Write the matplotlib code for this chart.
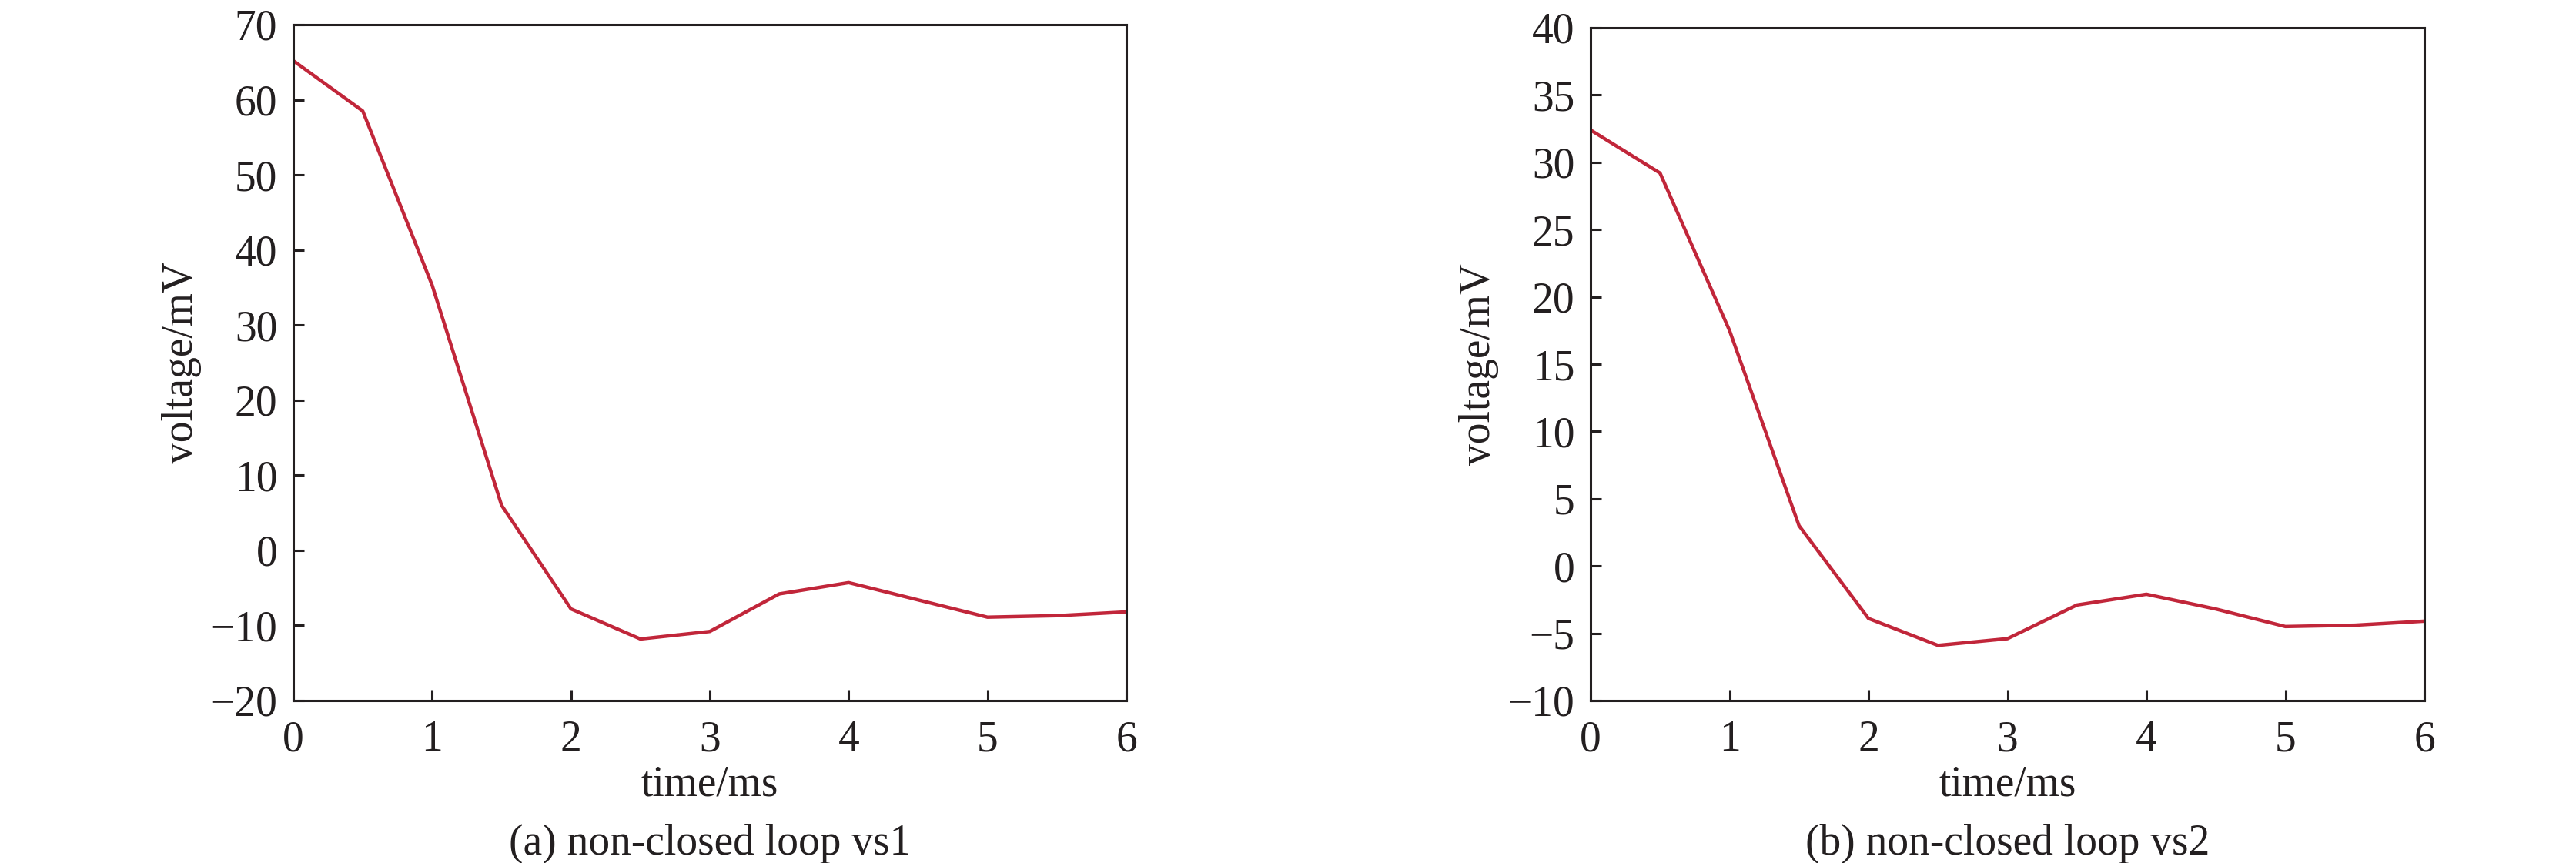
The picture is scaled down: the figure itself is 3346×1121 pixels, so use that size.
import numpy as np
import matplotlib
matplotlib.use("Agg")
import matplotlib.pyplot as plt

# ---------------- ДАННЫЕ ----------------

time_ms = [0, 0.5, 1, 1.5, 2, 2.5, 3, 3.5, 4, 4.5, 5, 5.5, 6]

# (a) non-closed loop vs1
vs1 = [65.2, 58.5, 35.3, 6.0, -7.8, -11.8, -10.8, -5.8, -4.3, -6.6, -8.9, -8.7, -8.2]

# (b) non-closed loop vs2
vs2 = [32.4, 29.2, 17.5, 3.0, -3.9, -5.9, -5.4, -2.9, -2.1, -3.2, -4.5, -4.4, -4.1]

panels = [
    (vs1, (-20, 70), np.arange(-20, 71, 10), "(a) non-closed loop vs1"),
    (vs2, (-10, 40), np.arange(-10, 41, 5), "(b) non-closed loop vs2"),
]

# ---------------- ОФОРМЛЕНИЕ ----------------

plt.rcParams["font.family"] = ["Liberation Serif", "DejaVu Serif"]

W, H = 3346, 1121
fig = plt.figure(figsize=(W / 100, H / 100), dpi=100)
fig.patch.set_facecolor("white")

# прямоугольники осей в пикселях (left, top, right, bottom)
boxes = [(381, 32, 1463, 910), (2066, 36, 3149, 910)]

line_color = "#c1263a"
fs = 40

for (values, ylim, yticks, caption), (l, t, r, b) in zip(panels, boxes):
    ax = fig.add_axes([l / W, (H - b) / H, (r - l) / W, (b - t) / H])

    ax.plot(time_ms, values, color=line_color, linewidth=3.2)

    ax.set_xlim(0, 6)
    ax.set_ylim(*ylim)
    ax.set_xticks(range(0, 7))
    ax.set_yticks(yticks)

    ax.tick_params(direction="in", length=10, width=2.2, labelsize=fs,
                   top=False, right=False, colors="#231f20")
    ax.tick_params(axis="x", pad=18)
    ax.tick_params(axis="y", pad=15)

    for spine in ax.spines.values():
        spine.set_linewidth(2.2)
        spine.set_color("#231f20")

    height = b - t
    width = r - l

    ax.set_xlabel("time/ms", fontsize=fs, va="center", color="#231f20")
    ax.xaxis.set_label_coords(0.5, (b - 1020) / height)

    ax.set_ylabel("voltage/mV", fontsize=fs, va="center", color="#231f20")
    ax.yaxis.set_label_coords((236 - 381) / width, 0.5)

    ax.text(0.5, (b - 1096) / height, caption, transform=ax.transAxes,
            ha="center", va="center", fontsize=fs, color="#231f20")

fig.savefig("out.png", dpi=100, facecolor="white")
